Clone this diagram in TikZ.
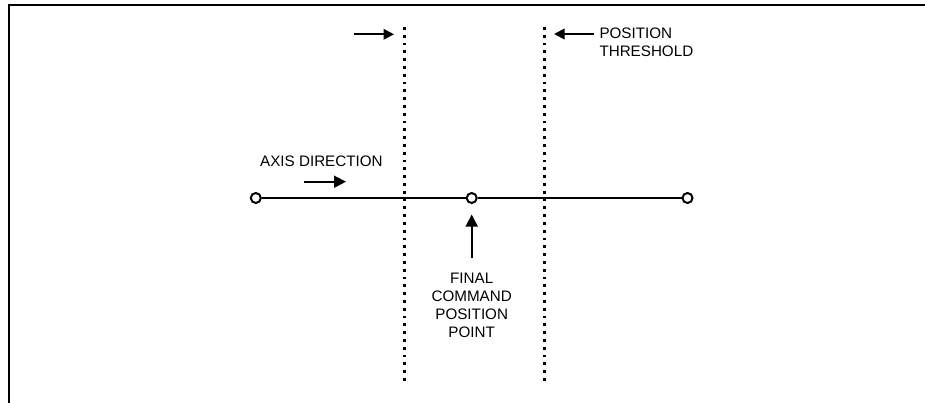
\documentclass[tikz,border=0pt]{standalone}
\usepackage{fontspec}
\setmainfont{Liberation Sans}
\usetikzlibrary{arrows.meta}
\tikzset{
  frameline/.style={line width=2pt, line cap=rect},
  dotline/.style={line width=2.3pt, dash pattern=on 2.8pt off 5pt},
  pointer/.style={line width=1.9pt, -{Triangle[length=10.5pt,width=10.5pt]}},
  bigpointer/.style={line width=1.7pt, -{Triangle[length=12pt,width=12pt]}},
  axisline/.style={line width=2pt},
  endpt/.style={circle, draw, fill=white, line width=2pt, minimum size=10pt, inner sep=0pt},
  lbl/.style={inner sep=0pt, font=\fontsize{15.2}{18}\selectfont}
}
\begin{document}
\begin{tikzpicture}[x=1pt,y=-1pt]
\useasboundingbox (0,0) rectangle (925,402);
% frame (top and left edges only)
\coordinate (fr) at (925,4.8);
\coordinate (fc) at (8.8,4.8);
\coordinate (fb) at (8.8,402);
\draw[frameline] (fr) -- (fc) -- (fb);
% threshold dotted lines
\coordinate (t1) at (404.5,27);
\coordinate (b1) at (404.5,385);
\coordinate (t2) at (544.5,27);
\coordinate (b2) at (544.5,385);
\draw[dotline] (t1) -- (b1);
\draw[dotline] (t2) -- (b2);
% threshold arrows
\coordinate (a1s) at (354,34.3);
\coordinate (a1e) at (394,34.3);
\draw[pointer] (a1s) -- (a1e);
\coordinate (a2s) at (594,34);
\coordinate (a2e) at (554,34);
\draw[pointer] (a2s) -- (a2e);
\node[lbl, anchor=north west, align=left] (thr) at (599.3,28) {POSITION\\THRESHOLD};
% axis direction
\node[lbl, anchor=north west] (axl) at (260,155.5) {AXIS DIRECTION};
\coordinate (a3s) at (304,181.7);
\coordinate (a3e) at (346,181.7);
\draw[bigpointer] (a3s) -- (a3e);
% main axis
\node[endpt] (p1) at (255.8,198) {};
\node[endpt] (p2) at (471.7,198) {};
\node[endpt] (p3) at (687.5,198) {};
\draw[axisline] (p1) -- (p2) -- (p3);
% final command position point
\coordinate (a4s) at (471.7,258);
\coordinate (a4e) at (471.7,214.5);
\draw[bigpointer] (a4s) -- (a4e);
\node[lbl, anchor=north, align=center] (fcp) at (471.7,273) {FINAL\\COMMAND\\POSITION\\POINT};
\end{tikzpicture}
\end{document}
